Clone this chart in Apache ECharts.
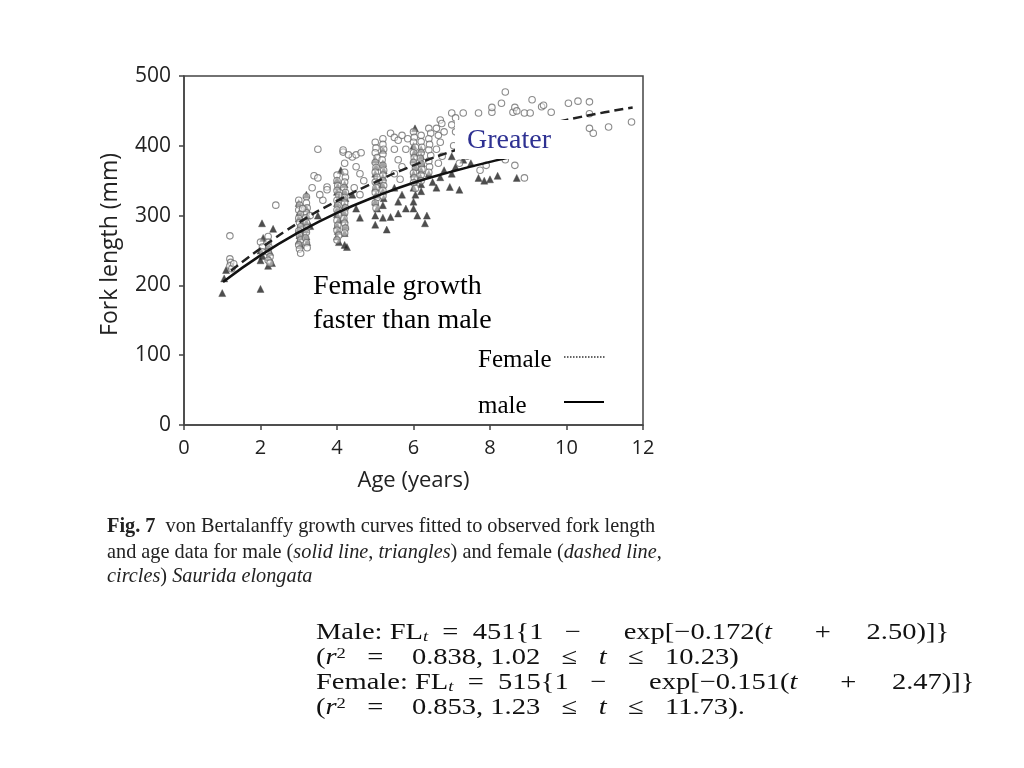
<!DOCTYPE html>
<html>
<head>
<meta charset="utf-8">
<script src="https://cdn.jsdelivr.net/npm/echarts@6/dist/echarts.min.js"></script>
<style>
html,body{margin:0;padding:0;background:#fff;}
#chart{width:1024px;height:768px;}
</style>
</head>
<body>
<div id="chart"></div>
<script>
// Observed female fork length (circles): [age (years), FL (mm)]
var femaleObs = [
[1.2,271],[1.2,238],[1.22,233],[1.2,228],[1.25,224],[1.3,231],
[2.0,262],[2.05,255],[2.2,270],[2.2,262],[2.22,255],[2.2,248],[2.25,241],[2.2,236],[2.25,232],[2.4,315],[2.05,248],
[3.0,322],[3.02,315],[3.0,308],[3.05,302],[3.0,296],[3.02,290],[3.05,284],[3.0,278],[3.02,272],[3.05,265],[3.0,258],[3.02,252],[3.05,246],
[3.2,327],[3.2,318],[3.22,311],[3.2,304],[3.18,297],[3.2,290],[3.22,283],[3.2,276],[3.18,268],[3.2,261],[3.22,254],
[3.35,340],[3.4,357],[3.5,354],[3.5,395],[3.63,322],[3.74,341],[3.74,337],[3.55,330],[3.1,310],[3.3,300],
[4.0,358],[4.0,350],[4.02,343],[4.0,336],[4.05,329],[4.0,322],[4.02,315],[4.0,308],[4.05,300],[4.0,293],[4.02,286],[4.0,279],[4.05,272],[4.0,265],
[4.2,375],[4.16,391],[4.2,362],[4.22,355],[4.2,348],[4.18,340],[4.22,333],[4.2,326],[4.2,318],[4.22,311],[4.2,304],[4.18,296],[4.2,289],[4.22,282],[4.2,275],
[4.4,384],[4.5,387],[4.63,390],[4.3,387],[4.5,370],[4.6,360],[4.7,350],[4.45,340],[4.6,330],[4.16,394],
[5.0,405],[5.02,397],[5.0,390],[5.05,383],[5.0,376],[5.02,369],[5.0,362],[5.05,355],[5.0,348],[5.02,340],[5.0,333],[5.05,326],[5.0,318],[5.02,311],
[5.2,410],[5.2,402],[5.22,395],[5.2,388],[5.18,380],[5.2,372],[5.22,365],[5.2,358],[5.2,350],[5.22,343],[5.2,336],[5.2,328],
[5.4,418],[5.5,412],[5.6,408],[5.7,415],[5.85,410],[5.5,395],[5.6,380],[5.7,370],[5.5,360],[5.65,352],[5.8,395],
[6.0,420],[6.02,412],[6.0,405],[6.05,398],[6.0,390],[6.02,383],[6.0,376],[6.05,369],[6.0,361],[6.02,354],[6.0,347],[6.05,339],
[6.2,415],[6.2,406],[6.22,398],[6.2,390],[6.18,382],[6.2,374],[6.22,366],[6.2,358],[6.2,350],
[6.4,425],[6.45,418],[6.4,410],[6.42,402],[6.4,394],[6.45,386],[6.4,378],[6.42,370],[6.4,362],
[6.7,437],[6.74,432],[6.6,425],[6.65,415],[6.7,405],[6.6,395],[6.75,385],[6.65,375],[6.8,420],
[7.0,447],[7.1,440],[7.3,447],[7.7,447],[7.0,430],[7.1,420],[7.2,410],[7.05,400],[7.3,395],[7.4,385],[7.2,375],[7.74,365],[7.9,372],
[8.05,448],[8.05,455],[8.3,461],[8.4,477],[8.6,448],[8.65,455],[8.7,450],[8.65,372],[8.9,354],[8.9,447],[9.05,447],[9.1,466],[9.35,456],[9.4,458],[9.6,448],[8.4,380],
[10.05,461],[10.3,464],[10.6,463],[10.6,446],[10.6,425],[10.7,418],[11.1,427],[11.7,434]
];
// Observed male fork length (triangles): [age (years), FL (mm)]
var maleObs = [
[1.0,189],[1.05,210],[1.1,222],
[2.0,195],[2.04,289],[2.33,281],[2.07,268],[2.0,250],[2.05,242],[2.0,236],[2.2,258],[2.25,248],[2.22,240],[2.3,232],[2.2,228],
[3.0,318],[3.02,305],[3.0,296],[3.05,288],[3.0,280],[3.02,272],[3.0,264],[3.05,258],[3.2,330],[3.2,310],[3.22,300],[3.2,290],[3.18,280],[3.2,270],[3.22,262],[3.1,270],[3.3,285],[3.5,300],
[4.0,351],[4.02,342],[4.0,334],[4.05,326],[4.0,318],[4.02,310],[4.0,302],[4.05,294],[4.0,286],[4.02,278],[4.0,270],[4.05,262],
[4.2,345],[4.2,335],[4.22,325],[4.2,315],[4.18,305],[4.2,295],[4.22,285],[4.2,275],[4.26,255],[4.2,258],[4.6,297],[4.5,310],[4.4,330],[4.1,365],
[5.2,394],[5.0,380],[5.02,370],[5.0,360],[5.05,350],[5.0,340],[5.02,330],[5.0,320],[5.05,310],[5.0,300],[5.0,287],
[5.2,375],[5.22,365],[5.2,355],[5.18,345],[5.2,335],[5.22,325],[5.2,315],[5.2,297],[5.4,298],[5.6,303],[5.5,340],[5.7,330],[5.8,310],[5.6,320],[5.3,280],
[6.04,425],[6.0,400],[6.02,390],[6.0,380],[6.05,370],[6.0,360],[6.02,350],[6.0,340],[6.05,330],[6.0,320],[6.0,310],[6.1,300],
[6.2,395],[6.2,385],[6.22,375],[6.2,365],[6.18,355],[6.2,345],[6.2,335],[6.3,289],[6.35,300],[6.5,348],[6.4,360],[6.6,340],[6.7,355],[6.8,365],[6.95,341],
[7.2,337],[7.0,360],[7.1,370],[7.3,380],[7.5,375],[7.7,354],[7.85,350],[8.0,352],[8.2,357],[8.7,354],[7.0,385],[7.2,395]
];
// Fitted von Bertalanffy curves
var maleCurveAge = [1.02,2,3,4,5,6,7,8,9,10.23];
var maleCurveFL  = [205,243,276,304,327,347,363,377,389,401];
var femaleCurveAge = [1.23,2,3,4,5,6,7,8,9,10,11,11.73];
var femaleCurveFL  = [221,253,290,321,348,372,392,409,424,437,448,455];

var xTicks = [0,2,4,6,8,10,12];
var yTicks = [0,100,200,300,400,500];

function zip(a,b){return a.map(function(v,i){return [v,b[i]];});}
function sp(n){return new Array(n+1).join(' ');}

var serif = '"Liberation Serif","DejaVu Serif",serif';
var sans = '"Open Sans","DejaVu Sans",sans-serif';

var eqFont = 23, eqScale = 1.24, eqColor = '#111';
var eqRich = {
  i:{fontStyle:'italic', fontFamily:serif, fontSize:eqFont, fill:eqColor},
  s:{fontStyle:'italic', fontFamily:serif, fontSize:15, fill:eqColor, verticalAlign:'bottom', padding:[9,0,0,0]},
  u:{fontFamily:serif, fontSize:15, fill:eqColor, verticalAlign:'top', padding:[0,0,8,0]}
};
function eqText(y, txt){
  return {type:'text', z:101, x:316, y:y, scaleX:eqScale, scaleY:1,
    style:{text:txt, fontFamily:serif, fontSize:eqFont, fill:eqColor, verticalAlign:'middle', rich:eqRich}};
}
var capFont = 20.3, capColor = '#222';
var capRich = {
  b:{fontWeight:'bold', fontFamily:serif, fontSize:capFont, fill:capColor},
  i:{fontStyle:'italic', fontFamily:serif, fontSize:capFont, fill:capColor}
};
function capText(y, txt){
  return {type:'text', z:101, x:107, y:y,
    style:{text:txt, fontFamily:serif, fontSize:capFont, fill:capColor, verticalAlign:'middle', rich:capRich}};
}

var chart = echarts.init(document.getElementById('chart'));
chart.setOption({
  backgroundColor:'#fff',
  animation:false,
  grid:{left:184, top:76, width:459, height:349, show:true, borderColor:'#444', borderWidth:1.5, backgroundColor:'transparent'},
  xAxis:{type:'value', min:xTicks[0], max:xTicks[xTicks.length-1], interval:2,
    name:'Age (years)', nameLocation:'middle', nameGap:45,
    nameTextStyle:{fontFamily:sans, fontSize:22, color:'#222'},
    axisLine:{lineStyle:{color:'#444', width:1.5}},
    axisTick:{show:true, inside:false, length:5, lineStyle:{color:'#444', width:1.5}},
    axisLabel:{fontFamily:sans, fontSize:20, color:'#222', margin:13},
    splitLine:{show:false}},
  yAxis:{type:'value', min:yTicks[0], max:yTicks[yTicks.length-1], interval:100,
    name:'Fork length (mm)', nameLocation:'middle', nameGap:62,
    nameTextStyle:{fontFamily:sans, fontSize:23, color:'#222', padding:[0,0,0,12]},
    axisLine:{show:true, lineStyle:{color:'#444', width:1.5}},
    axisTick:{show:true, inside:false, length:5, lineStyle:{color:'#444', width:1.5}},
    axisLabel:{fontFamily:sans, fontSize:21, color:'#222', margin:13},
    splitLine:{show:false}},
  series:[
    {type:'scatter', name:'male', data:maleObs, symbol:'triangle', symbolSize:7,
      itemStyle:{color:'#222', borderColor:'#444', borderWidth:0.5}, z:2},
    {type:'scatter', name:'female', data:femaleObs, symbol:'circle', symbolSize:6.5,
      itemStyle:{color:'rgba(255,255,255,0.6)', borderColor:'#6e6e6e', borderWidth:1.1}, z:3},
    {type:'line', name:'male fit', data:zip(maleCurveAge,maleCurveFL), smooth:true, showSymbol:false, symbol:'none',
      lineStyle:{color:'#111', width:2.5}, z:4},
    {type:'line', name:'female fit', data:zip(femaleCurveAge,femaleCurveFL), smooth:true, showSymbol:false, symbol:'none',
      lineStyle:{color:'#222', width:2.5, type:[9,5]}, z:4}
  ],
  graphic:[
    {type:'rect', z:100, shape:{x:455, y:120, width:122, height:39}, style:{fill:'#fff'}},
    {type:'text', z:101, x:509, y:141, style:{text:'Greater', fontFamily:serif, fontSize:28, fill:'#2e3192', align:'center', verticalAlign:'middle'}},
    {type:'text', z:101, x:313, y:287, style:{text:'Female growth', fontFamily:serif, fontSize:28, fill:'#000', align:'left', verticalAlign:'middle'}},
    {type:'text', z:101, x:313, y:321, style:{text:'faster than male', fontFamily:serif, fontSize:28, fill:'#000', align:'left', verticalAlign:'middle'}},
    {type:'text', z:101, x:478, y:360, style:{text:'Female', fontFamily:serif, fontSize:25, fill:'#000', align:'left', verticalAlign:'middle'}},
    {type:'text', z:101, x:478, y:406, style:{text:'male', fontFamily:serif, fontSize:25, fill:'#000', align:'left', verticalAlign:'middle'}},
    {type:'line', z:101, shape:{x1:564, y1:357, x2:605, y2:357}, style:{stroke:'#333', lineWidth:1.5, lineDash:[1.5,1.5]}},
    {type:'line', z:101, shape:{x1:564, y1:402, x2:604, y2:402}, style:{stroke:'#000', lineWidth:2}},
    capText(527, '{b|Fig. 7}  von Bertalanffy growth curves fitted to observed fork length'),
    capText(553, 'and age data for male ({i|solid line}, {i|triangles}) and female ({i|dashed line},'),
    capText(577, '{i|circles}) {i|Saurida elongata}'),
    eqText(633, 'Male: FL{s|t}' + sp(2) + '=' + sp(2) + '451{1' + sp(3) + '−' + sp(6) + 'exp[−0.172({i|t}' + sp(6) + '+' + sp(5) + '2.50)]}'),
    eqText(658, '({i|r}{u|2}' + sp(3) + '=' + sp(4) + '0.838, 1.02' + sp(3) + '≤' + sp(3) + '{i|t}' + sp(3) + '≤' + sp(3) + '10.23)'),
    eqText(683, 'Female: FL{s|t}' + sp(2) + '=' + sp(2) + '515{1' + sp(3) + '−' + sp(6) + 'exp[−0.151({i|t}' + sp(6) + '+' + sp(5) + '2.47)]}'),
    eqText(708, '({i|r}{u|2}' + sp(3) + '=' + sp(4) + '0.853, 1.23' + sp(3) + '≤' + sp(3) + '{i|t}' + sp(3) + '≤' + sp(3) + '11.73).')
  ]
});
</script>
</body>
</html>
